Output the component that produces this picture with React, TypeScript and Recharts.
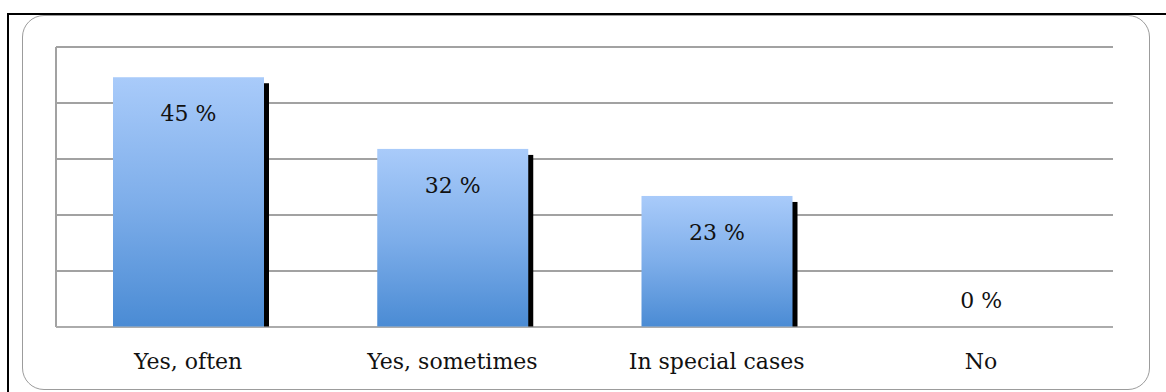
import { BarChart, Bar, XAxis, YAxis, CartesianGrid, LabelList } from "recharts";

const categories = ["Yes, often", "Yes, sometimes", "In special cases", "No"];
const shares = [44.6, 31.8, 23.4, 0];
const shareLabels = ["45 %", "32 %", "23 %", "0 %"];
const yTicks = [10, 20, 30, 40, 50];

const data = categories.map((category, i) => ({
  category,
  share: shares[i],
  label: shareLabels[i],
}));

const FONT = "'DejaVu Serif', serif";

function ShadowBar(props: any) {
  const { x, y, width, height } = props;
  if (!height || height <= 0) return null;
  return (
    <g>
      <rect x={x + 5} y={y + 6} width={width} height={Math.max(0, height - 6)} fill="#000" />
      <rect x={x} y={y} width={width} height={height} fill="url(#barFill)" />
    </g>
  );
}

function ValueLabel(props: any) {
  const { x, y, width, height, value } = props;
  const ty = height > 0 ? y + 44 : y - 19;
  return (
    <text x={x + width / 2} y={ty} textAnchor="middle" fontFamily={FONT} fontSize={22} fill="#111">
      {value}
    </text>
  );
}

function CategoryTick(props: any) {
  const { x, y, payload } = props;
  return (
    <text x={x} y={y + 42} textAnchor="middle" fontFamily={FONT} fontSize={22} fill="#111">
      {payload.value}
    </text>
  );
}

const NoTick = () => <g />;

export default function App() {
  return (
    <div
      style={{
        position: "absolute",
        left: 0,
        top: 0,
        width: 1166,
        height: 392,
        background: "#fff",
        overflow: "hidden",
      }}
    >
      <div
        style={{
          position: "absolute",
          left: 7,
          top: 13,
          width: 1200,
          height: 420,
          borderLeft: "2px solid #000",
          borderTop: "2px solid #000",
        }}
      />
      <div
        style={{
          position: "absolute",
          left: 22,
          top: 15,
          width: 1126,
          height: 373,
          border: "1px solid #9c9c9c",
          borderRadius: 22,
        }}
      />
      <div style={{ position: "absolute", left: 0, top: 0 }}>
        <BarChart
          width={1166}
          height={392}
          data={data}
          margin={{ top: 47, right: 53, bottom: 25, left: 55 }}
        >
          <defs>
            <linearGradient id="barFill" x1="0" y1="0" x2="0" y2="1">
              <stop offset="0%" stopColor="#a9cbfa" />
              <stop offset="50%" stopColor="#7eaeea" />
              <stop offset="100%" stopColor="#4a8bd4" />
            </linearGradient>
          </defs>
          <CartesianGrid vertical={false} stroke="#a2a2a2" strokeWidth={2} />
          <YAxis
            type="number"
            domain={[0, 50]}
            ticks={yTicks}
            interval={0}
            width={1}
            tick={<NoTick />}
            tickLine={false}
            axisLine={{ stroke: "#a2a2a2", strokeWidth: 2 }}
          />
          <XAxis
            dataKey="category"
            height={40}
            tickSize={0}
            tickMargin={0}
            tickLine={false}
            axisLine={{ stroke: "#b5b5b5", strokeWidth: 1 }}
            tick={<CategoryTick />}
            interval={0}
          />
          <Bar dataKey="share" barSize={151} shape={<ShadowBar />} isAnimationActive={false}>
            <LabelList dataKey="label" content={<ValueLabel />} />
          </Bar>
        </BarChart>
      </div>
    </div>
  );
}
